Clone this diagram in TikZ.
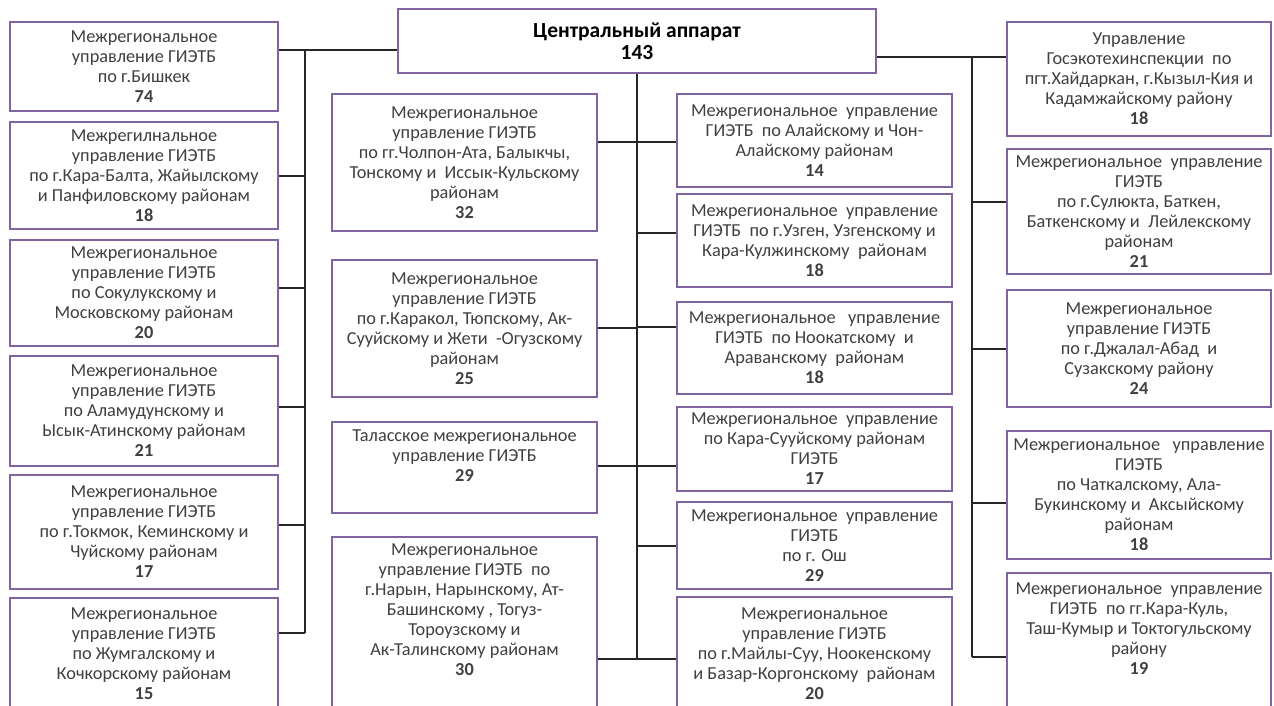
\documentclass[tikz,border=0pt]{standalone}
\usepackage{fontspec}
\setmainfont{Carlito}
\definecolor{boxline}{HTML}{8064A2}
\definecolor{boxtext}{HTML}{404040}
\tikzset{
  unitbox/.style={draw=boxline, line width=1.3pt, fill=white, align=center,
    text=boxtext, inner sep=2pt, font=\fontsize{18.3}{20}\selectfont},
  headbox/.style={unitbox, text=black, font=\fontsize{21.5}{22}\selectfont\bfseries},
  raised/.style={text depth=#1},
  link/.style={line width=1.2pt, black!85},
}

\begin{document}
\begin{tikzpicture}[x=1pt,y=-1pt]
\useasboundingbox (0,0) rectangle (1274,706);
\fill[white] (0,0) rectangle (1274,706);
\clip (0,0) rectangle (1274,706);

\node[headbox, minimum width=478pt, minimum height=64pt] (cen) at (637,41) {Центральный аппарат\\143};

\node[unitbox, minimum width=268pt, minimum height=89pt] (L1) at (144,66.5) {Межрегиональное\\управление ГИЭТБ\\по г.Бишкек\\\textbf{74}};
\node[unitbox, minimum width=268pt, minimum height=107pt] (L2) at (144,175.5) {Межрегилнальное\\управление ГИЭТБ\\по г.Кара-Балта, Жайылскому\\и Панфиловскому районам\\\textbf{18}};
\node[unitbox, minimum width=268pt, minimum height=106pt] (L3) at (144,293) {Межрегиональное\\управление ГИЭТБ\\по Сокулукскому и\\Московскому районам\\\textbf{20}};
\node[unitbox, minimum width=268pt, minimum height=110pt] (L4) at (144,411) {Межрегиональное\\управление ГИЭТБ\\по Аламудунскому и\\Ысык-Атинскому районам\\\textbf{21}};
\node[unitbox, minimum width=268pt, minimum height=114pt] (L5) at (144,532) {Межрегиональное\\управление ГИЭТБ\\по г.Токмок, Кеминскому и\\Чуйскому районам\\\textbf{17}};
\node[unitbox, minimum width=268pt, minimum height=112pt] (L6) at (144,654) {Межрегиональное\\управление ГИЭТБ\\по Жумгалскому и\\Кочкорскому районам\\\textbf{15}};

\node[unitbox, minimum width=265pt, minimum height=137pt] (C1) at (464.5,162.5) {Межрегиональное\\управление ГИЭТБ\\по гг.Чолпон-Ата, Балыкчы,\\Тонскому и\ \ Иссык-Кульскому\\районам\\\textbf{32}};
\node[unitbox, minimum width=265pt, minimum height=137pt] (C2) at (464.5,328.5) {Межрегиональное\\управление ГИЭТБ\\по г.Каракол, Тюпскому, Ак-\\Сууйскому и Жети\ \ -Огузскому\\районам\\\textbf{25}};
\node[unitbox, raised=24pt, minimum width=265pt, minimum height=91pt] (C3) at (464.5,467.5) {Таласское межрегиональное\\управление ГИЭТБ\\\textbf{29}};
\node[unitbox, raised=47pt, minimum width=265pt, minimum height=193pt] (C4) at (464.5,633.5) {Межрегиональное\\управление ГИЭТБ\ \ по\\г.Нарын, Нарынскому, Ат-\\Башинскому , Тогуз-\\Тороузскому и\\Ак-Талинскому районам\\\textbf{30}};

\node[unitbox, minimum width=275pt, minimum height=93pt] (R1) at (814.5,140.5) {Межрегиональное\ \ управление\\ГИЭТБ\ \ по Алайскому и Чон-\\Алайскому районам\\\textbf{14}};
\node[unitbox, minimum width=275pt, minimum height=93pt] (R2) at (814.5,240.5) {Межрегиональное\ \ управление\\ГИЭТБ\ \ по г.Узген, Узгенскому и\\Кара-Кулжинскому\ \ районам\\\textbf{18}};
\node[unitbox, minimum width=275pt, minimum height=92pt] (R3) at (814.5,348) {Межрегиональное\ \ \ управление\\ГИЭТБ\ \ по Ноокатскому\ \ и\\Араванскому\ \ районам\\\textbf{18}};
\node[unitbox, minimum width=275pt, minimum height=84pt] (R4) at (814.5,449) {Межрегиональное\ \ управление\\по Кара-Сууйскому районам\\ГИЭТБ\\\textbf{17}};
\node[unitbox, minimum width=275pt, minimum height=87pt] (R5) at (814.5,545.5) {Межрегиональное\ \ управление\\ГИЭТБ\\по г. Ош\\\textbf{29}};
\node[unitbox, minimum width=275pt, minimum height=113pt] (R6) at (814.5,653.5) {Межрегиональное\\управление ГИЭТБ\\по г.Майлы-Суу, Ноокенскому\\и Базар-Коргонскому\ \ районам\\\textbf{20}};

\node[unitbox, minimum width=264pt, minimum height=114pt] (F1) at (1139,79) {Управление\\Госэкотехинспекции\ \ по\\пгт.Хайдаркан, г.Кызыл-Кия и\\Кадамжайскому району\\\textbf{18}};
\node[unitbox, minimum width=264pt, minimum height=125pt] (F2) at (1139,211.5) {Межрегиональное\ \ управление\\ГИЭТБ\\по г.Сулюкта, Баткен,\\Баткенскому и\ \ Лейлекскому\\районам\\\textbf{21}};
\node[unitbox, minimum width=264pt, minimum height=117pt] (F3) at (1139,348.5) {Межрегиональное\\управление ГИЭТБ\\по г.Джалал-Абад\ \ и\\Сузакскому району\\\textbf{24}};
\node[unitbox, minimum width=264pt, minimum height=128pt] (F4) at (1139,495) {Межрегиональное\ \ \ управление\\ГИЭТБ\\по Чаткалскому, Ала-\\Букинскому и\ \ Аксыйскому\\районам\\\textbf{18}};
\node[unitbox, raised=45pt, minimum width=264pt, minimum height=157pt] (F5) at (1139,651.5) {Межрегиональное\ \ управление\\ГИЭТБ\ \ по гг.Кара-Куль,\\Таш-Кумыр и Токтогульскому\\району\\\textbf{19}};

\coordinate (lbus) at (305,50);
\coordinate (rbus) at (972,57);

\draw[link] (L1.east |- lbus) -- (cen.west |- lbus);
\draw[link] (lbus) -- (lbus |- 0,633);
\foreach \n/\y in {L2/176,L3/288,L4/407,L5/525,L6/633}
  \draw[link] (lbus |- 0,\y) -- (\n.east |- 0,\y);

\draw[link] (cen.south) -- (cen.south |- 0,659);
\foreach \n/\y in {C1/142,C2/328,C3/466,C4/659}
  \draw[link] (cen.south |- 0,\y) -- (\n.east |- 0,\y);
\foreach \n/\y in {R1/142,R2/233,R3/327,R4/466,R5/546,R6/659}
  \draw[link] (cen.south |- 0,\y) -- (\n.west |- 0,\y);

\draw[link] (cen.east |- rbus) -- (F1.west |- rbus);
\draw[link] (rbus) -- (rbus |- 0,657);
\foreach \n/\y in {F2/202,F3/349,F4/503,F5/657}
  \draw[link] (rbus |- 0,\y) -- (\n.west |- 0,\y);
\end{tikzpicture}
\end{document}
